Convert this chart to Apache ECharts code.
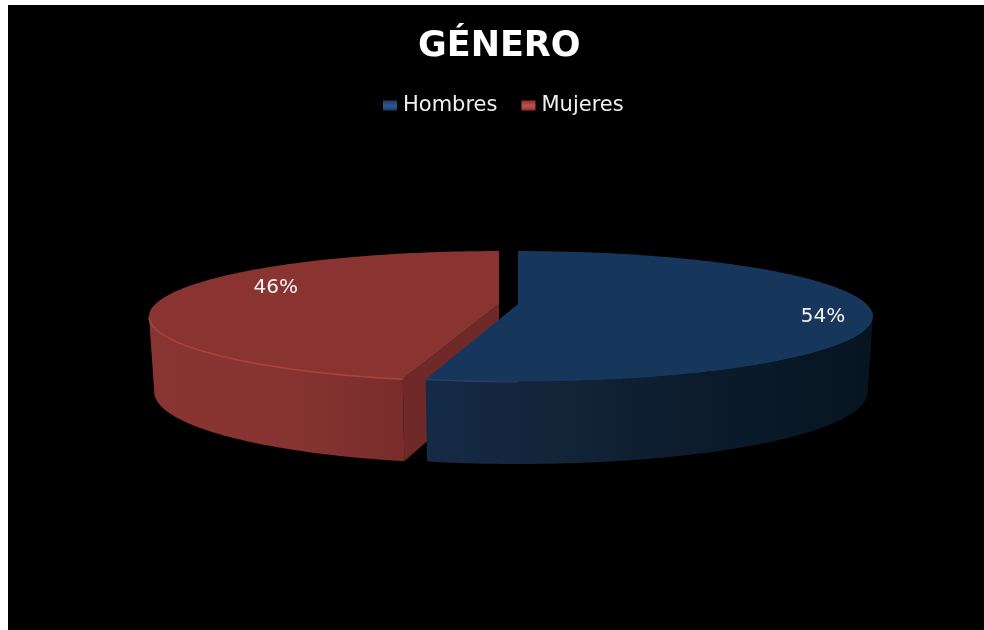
<!DOCTYPE html>
<html>
<head>
<meta charset="utf-8">
<title>GÉNERO</title>
<style>
  html, body { margin: 0; padding: 0; background: #fff; }
  #chart { position: absolute; left: 0; top: 0; width: 984px; height: 630px; }
</style>
<script src="https://cdn.jsdelivr.net/npm/echarts@6/dist/echarts.min.js"></script>
</head>
<body>
<div id="chart"></div>
<script>
// Values
const categories = ['Hombres', 'Mujeres'];
const shares = [54, 46];
const chartTitle = 'GÉNERO';

// Shared perspective of the tilted disc
const discHalfDepth = 63;
const depthFalloff = 0.19;
const wallDepth = 74;
const wallFalloff = 0.1;
const bottomShrink = 0.985;
const apexY = 304;

// Per-slice drawing style; the slices are pulled apart sideways from the middle.
// lensWarp bends the front and back quadrants of the disc by a small angle (radians).
const sliceStyle = {
  Hombres: {
    apexX: 518, radius: 348.5, lensWarp: -0.07,
    top: '#17365c', legend: ['#1d3a66', '#2f5a8f'],
    wall: [
      { offset: 0, color: '#152a46' }, { offset: 0.3, color: '#122438' },
      { offset: 0.6, color: '#0c1c2d' }, { offset: 1, color: '#071420' }
    ],
    cut: '#0f2036', rim: 'rgba(50,100,150,0.35)', rimSpan: [0.5, 0.54],
    labelTurn: 0.282, labelRadius: 0.865, z: 3
  },
  Mujeres: {
    apexX: 499, radius: 343.6, lensWarp: -0.044,
    top: '#8a3432', legend: ['#8c3331', '#c2504c'],
    wall: [
      { offset: 0, color: '#883432' }, { offset: 0.6, color: '#863331' },
      { offset: 0.88, color: '#7c2f2d' }, { offset: 1, color: '#782d2b' }
    ],
    cut: '#6f2a28', rim: '#ab423e', rimSpan: [0.54, 0.72],
    labelTurn: 0.807, labelRadius: 0.739, z: 2
  }
};

function planePoint(style, turn, r) {
  const t = turn * Math.PI * 2;
  const a = t + style.lensWarp * Math.sin(2 * t);
  return [r * Math.sin(a), -r * Math.cos(a)];
}

// Turn fraction (0 = far side, clockwise) and radial fraction to screen position
function project(style, turn, r) {
  const p = planePoint(style, turn, r);
  return [
    style.apexX + style.radius * p[0] / (1 - depthFalloff * p[1]),
    apexY + discHalfDepth * p[1] / (1 - depthFalloff * p[1])
  ];
}

// The same position dropped onto the underside of the disc
function dropped(style, turn, r) {
  const p = project(style, turn, r);
  const v = planePoint(style, turn, r)[1];
  return [
    style.apexX + (p[0] - style.apexX) * bottomShrink,
    p[1] + wallDepth / (1 - wallFalloff * v)
  ];
}

function arc(fn, style, from, to) {
  const steps = Math.max(2, Math.ceil(Math.abs(to - from) * 360));
  const pts = [];
  for (let i = 0; i <= steps; i++) pts.push(fn(style, from + (to - from) * i / steps, 1));
  return pts;
}

const total = shares.reduce((a, b) => a + b, 0);

// The curved wall shows only between the two side extremes of the disc
const wallStartTurn = Math.acos(-depthFalloff) / (Math.PI * 2);
const wallEndTurn = 1 - wallStartTurn;

function renderSlice(index) {
  return function (params, api) {
    const name = categories[index];
    const style = sliceStyle[name];
    const value = api.value(0);
    const from = shares.slice(0, index).reduce((a, b) => a + b, 0) / total;
    const to = from + value / total;

    const topArc = arc(project, style, from, to);
    const wallFrom = Math.max(from, wallStartTurn);
    const wallTo = Math.min(to, wallEndTurn);
    const wallTop = arc(project, style, wallFrom, wallTo);
    const wallBottom = arc(dropped, style, wallFrom, wallTo);
    const apexTop = project(style, 0, 0);
    const apexBottom = dropped(style, 0, 0);
    const xs = wallTop.map(p => p[0]);
    const children = [];

    // Outer curved wall
    children.push({
      type: 'polygon',
      shape: { points: wallTop.concat(wallBottom.slice().reverse()) },
      style: {
        fill: new echarts.graphic.LinearGradient(
          Math.min.apply(null, xs), 0, Math.max.apply(null, xs), 0, style.wall, true)
      }
    });

    // Flat cut wall, drawn only where it turns towards the viewer
    [[from, -1], [to, 1]].forEach(function (edge) {
      const a = edge[0] * Math.PI * 2;
      if (edge[1] * Math.sin(a) > 0.01) {
        children.push({
          type: 'polygon',
          shape: { points: [apexTop, project(style, edge[0], 1), dropped(style, edge[0], 1), apexBottom] },
          style: { fill: style.cut }
        });
      }
    });

    // Top face
    children.push({
      type: 'polygon',
      shape: { points: [apexTop].concat(topArc) },
      style: { fill: style.top }
    });

    // Bevel highlight on the front edge of the face
    children.push({
      type: 'polyline',
      shape: { points: arc(project, style, style.rimSpan[0], style.rimSpan[1]) },
      style: { stroke: style.rim, lineWidth: 1.6, fill: 'none' }
    });

    // Percentage label
    const at = project(style, style.labelTurn, style.labelRadius);
    children.push({
      type: 'text',
      z2: 10,
      style: {
        text: value + '%',
        x: at[0], y: at[1],
        align: 'center', verticalAlign: 'middle',
        fill: '#f4f4f4',
        font: '20px "DejaVu Sans"'
      }
    });

    return { type: 'group', children: children };
  };
}

const chart = echarts.init(document.getElementById('chart'), null, { renderer: 'canvas' });

function legendFill(name) {
  const c = sliceStyle[name].legend;
  return new echarts.graphic.LinearGradient(0, 0, 0, 1, [
    { offset: 0, color: c[0] }, { offset: 0.55, color: c[1] }, { offset: 1, color: c[0] }
  ]);
}

chart.setOption({
  animation: false,
  backgroundColor: '#ffffff',
  graphic: [{
    type: 'rect', z: -10, silent: true,
    shape: { x: 8, y: 5, width: 976, height: 625 },
    style: { fill: '#000000' }
  }],
  title: {
    text: chartTitle,
    left: 418,
    top: 29,
    padding: 0,
    textStyle: { color: '#ffffff', fontFamily: 'DejaVu Sans', fontWeight: 'bold', fontSize: 35 }
  },
  legend: {
    left: 378,
    top: 90,
    icon: 'rect',
    itemWidth: 14,
    itemHeight: 10,
    itemGap: 24,
    data: categories.map(function (name) {
      return { name: name, itemStyle: { color: legendFill(name) } };
    }),
    textStyle: { color: '#f0f0f0', fontFamily: 'DejaVu Sans', fontSize: 21, padding: [0, 0, 0, 1] }
  },
  series: categories.map(function (name, i) {
    return {
      type: 'custom',
      name: name,
      coordinateSystem: 'none',
      z: sliceStyle[name].z,
      silent: true,
      itemStyle: { color: sliceStyle[name].top },
      renderItem: renderSlice(i),
      data: [[shares[i]]]
    };
  })
});
</script>
</body>
</html>
